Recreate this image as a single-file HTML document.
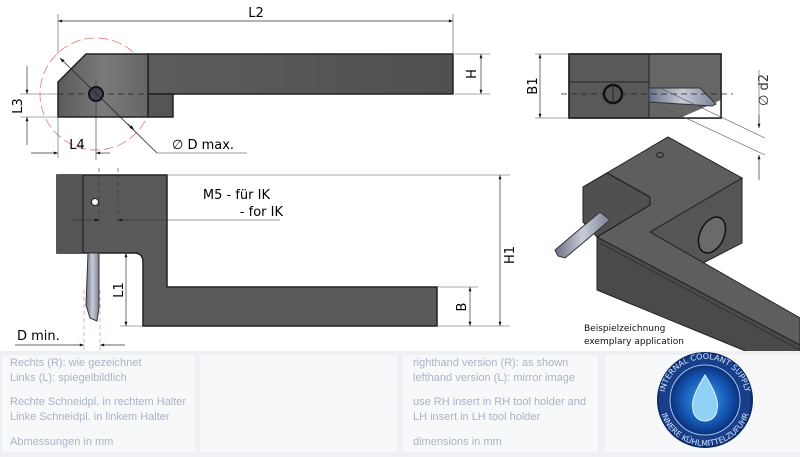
<!DOCTYPE html>
<html><head><meta charset="utf-8"><style>
html,body{margin:0;padding:0;background:#fff;width:800px;height:457px;overflow:hidden}
svg text{font-family:"DejaVu Sans","Liberation Sans",sans-serif}
.t{font-family:"Liberation Sans",sans-serif;font-size:11px;fill:#aab3c6}
</style></head><body>
<svg width="800" height="457" viewBox="0 0 800 457" xmlns="http://www.w3.org/2000/svg">
<defs>
<linearGradient id="hg" x1="0" x2="1"><stop offset="0" stop-color="#5a5a5a"/><stop offset="0.5" stop-color="#7a7a7a"/><stop offset="1" stop-color="#666"/></linearGradient>
<linearGradient id="sg" x1="0" x2="1"><stop offset="0" stop-color="#5c5c5c"/><stop offset="1" stop-color="#505050"/></linearGradient>
<linearGradient id="tool" x1="0" x2="1"><stop offset="0" stop-color="#6a7085"/><stop offset="0.5" stop-color="#c8ccd8"/><stop offset="1" stop-color="#7a8094"/></linearGradient>
<radialGradient id="logo" cx="0.5" cy="0.5" r="0.5"><stop offset="0" stop-color="#3fa0e8"/><stop offset="0.7" stop-color="#1354b0"/><stop offset="1" stop-color="#0c2f78"/></radialGradient>
<marker id="a" viewBox="0 0 10 10" refX="10" refY="5" markerWidth="8" markerHeight="6" orient="auto-start-reverse"><path d="M0,1.5 L10,5 L0,8.5z" fill="#111"/></marker>
</defs>

<!-- TOP VIEW -->
<circle cx="96" cy="94" r="56" fill="none" stroke="#e07a7a" stroke-width="0.8" stroke-dasharray="10,4"/>
<rect x="148" y="54" width="305" height="40" fill="url(#sg)" stroke="#222" stroke-width="1.5"/>
<rect x="148" y="94" width="25" height="23" fill="#555" stroke="#222" stroke-width="1.5"/>
<path d="M58,82 L86,54 L148,54 L148,117 L58,117 Z" fill="url(#hg)" stroke="#222" stroke-width="1.5"/>
<line x1="58" y1="94" x2="150" y2="94" stroke="#222" stroke-width="0.8" stroke-dasharray="6,4"/>
<circle cx="96" cy="94" r="7" fill="#445" stroke="#111" stroke-width="2"/>
<line x1="96" y1="80" x2="96" y2="160" stroke="#333" stroke-width="0.6"/>
<line x1="58" y1="14" x2="58" y2="54" stroke="#555" stroke-width="0.6"/>
<line x1="453" y1="14" x2="453" y2="54" stroke="#555" stroke-width="0.6"/>
<line x1="58" y1="21" x2="453" y2="21" stroke="#333" stroke-width="0.7" marker-start="url(#a)" marker-end="url(#a)"/>
<text x="256" y="17" font-size="13" text-anchor="middle">L2</text>
<line x1="455" y1="54" x2="490" y2="54" stroke="#555" stroke-width="0.6"/>
<line x1="455" y1="94" x2="490" y2="94" stroke="#555" stroke-width="0.6"/>
<line x1="481" y1="54" x2="481" y2="94" stroke="#333" stroke-width="0.7" marker-start="url(#a)" marker-end="url(#a)"/>
<text transform="translate(476,74) rotate(-90)" font-size="13" text-anchor="middle">H</text>
<line x1="20" y1="94" x2="58" y2="94" stroke="#555" stroke-width="0.6"/>
<line x1="20" y1="117" x2="58" y2="117" stroke="#555" stroke-width="0.6"/>
<line x1="27" y1="66" x2="27" y2="94" stroke="#333" stroke-width="0.7" marker-end="url(#a)"/>
<line x1="27" y1="145" x2="27" y2="117" stroke="#333" stroke-width="0.7" marker-end="url(#a)"/>
<text transform="translate(22,106) rotate(-90)" font-size="13" text-anchor="middle">L3</text>
<line x1="58" y1="117" x2="58" y2="158" stroke="#555" stroke-width="0.6"/>
<line x1="31" y1="153" x2="58" y2="153" stroke="#333" stroke-width="0.7" marker-end="url(#a)"/>
<line x1="110" y1="153" x2="96" y2="153" stroke="#333" stroke-width="0.7" marker-end="url(#a)"/>
<text x="77" y="149" font-size="13" text-anchor="middle">L4</text>
<line x1="60" y1="58" x2="157" y2="153" stroke="#222" stroke-width="0.8" marker-start="url(#a)"/>
<line x1="128" y1="124" x2="134" y2="130" stroke="#222" stroke-width="0.8" marker-end="url(#a)"/>
<line x1="157" y1="153" x2="247" y2="153" stroke="#333" stroke-width="0.6"/>
<text x="172" y="149" font-size="13">∅ D max.</text>

<!-- FRONT VIEW -->
<path d="M57,175 L167,175 L167,287 L437,287 L437,326 L143,326 L143,262 Q143,253 134,253 L57,253 Z" fill="#5a5a5a" stroke="#222" stroke-width="1.5"/>
<rect x="57" y="175" width="26" height="78" fill="#555"/>
<line x1="83" y1="175" x2="83" y2="253" stroke="#222" stroke-width="1.2"/>
<line x1="99" y1="168" x2="99" y2="222" stroke="#333" stroke-width="0.6" stroke-dasharray="4,3"/>
<line x1="118" y1="168" x2="118" y2="222" stroke="#333" stroke-width="0.6" stroke-dasharray="4,3"/>
<circle cx="95" cy="202" r="3.5" fill="#fff" stroke="#222"/>
<line x1="72" y1="220" x2="99" y2="220" stroke="#333" stroke-width="0.7" marker-end="url(#a)"/>
<line x1="130" y1="220" x2="118" y2="220" stroke="#333" stroke-width="0.7" marker-end="url(#a)"/>
<line x1="118" y1="220" x2="280" y2="220" stroke="#333" stroke-width="0.6"/>
<text x="270" y="199" font-size="13" text-anchor="end">M5 - für IK</text>
<text x="283" y="216" font-size="13" text-anchor="end">- for IK</text>
<path d="M88,253 L99,253 L99,308 L97,321 L90,318 L86,305 Z" fill="url(#tool)" stroke="#333" stroke-width="1"/>
<line x1="84" y1="290" x2="84" y2="350" stroke="#e07a7a" stroke-width="0.6" stroke-dasharray="4,3"/>
<line x1="100" y1="290" x2="100" y2="350" stroke="#e07a7a" stroke-width="0.6" stroke-dasharray="4,3"/>
<line x1="126" y1="253" x2="126" y2="326" stroke="#333" stroke-width="0.7" marker-start="url(#a)" marker-end="url(#a)"/>
<line x1="120" y1="326" x2="143" y2="326" stroke="#555" stroke-width="0.6"/>
<text transform="translate(123,290) rotate(-90)" font-size="13" text-anchor="middle">L1</text>
<line x1="15" y1="345" x2="84" y2="345" stroke="#333" stroke-width="0.7" marker-end="url(#a)"/>
<line x1="125" y1="345" x2="100" y2="345" stroke="#333" stroke-width="0.7" marker-end="url(#a)"/>
<text x="17" y="340" font-size="13">D min.</text>
<line x1="167" y1="175" x2="510" y2="175" stroke="#555" stroke-width="0.6"/>
<line x1="437" y1="326" x2="510" y2="326" stroke="#555" stroke-width="0.6"/>
<line x1="437" y1="287" x2="478" y2="287" stroke="#555" stroke-width="0.6"/>
<line x1="500" y1="175" x2="500" y2="326" stroke="#333" stroke-width="0.7" marker-start="url(#a)" marker-end="url(#a)"/>
<text transform="translate(514,255) rotate(-90)" font-size="13" text-anchor="middle">H1</text>
<line x1="470" y1="287" x2="470" y2="326" stroke="#333" stroke-width="0.7" marker-start="url(#a)" marker-end="url(#a)"/>
<text transform="translate(466,307) rotate(-90)" font-size="13" text-anchor="middle">B</text>

<!-- SIDE VIEW -->
<rect x="569" y="54" width="152" height="64" fill="#595959" stroke="#222" stroke-width="1.5"/>
<rect x="649" y="54" width="72" height="64" fill="#666"/>
<line x1="569" y1="82" x2="649" y2="82" stroke="#222" stroke-width="1"/>
<line x1="649" y1="54" x2="649" y2="118" stroke="#222" stroke-width="1"/>
<path d="M680,118 L721,100 L721,118 Z" fill="#fff"/>
<path d="M649,88 L700,88 L716,104 L712,106 L649,102 Z" fill="url(#tool)" stroke="#333"/>
<rect x="569" y="54" width="152" height="64" fill="none" stroke="#222" stroke-width="1.5"/>
<line x1="561" y1="94" x2="733" y2="94" stroke="#222" stroke-width="0.7" stroke-dasharray="6,4"/>
<circle cx="613" cy="94" r="9" fill="#555" stroke="#111" stroke-width="2.5"/>
<line x1="613" y1="85" x2="613" y2="103" stroke="#222"/>
<line x1="540" y1="54" x2="540" y2="118" stroke="#333" stroke-width="0.7" marker-start="url(#a)" marker-end="url(#a)"/>
<line x1="535" y1="54" x2="569" y2="54" stroke="#555" stroke-width="0.6"/>
<line x1="535" y1="118" x2="569" y2="118" stroke="#555" stroke-width="0.6"/>
<text transform="translate(537,86) rotate(-90)" font-size="13" text-anchor="middle">B1</text>
<line x1="660" y1="88" x2="765" y2="138" stroke="#555" stroke-width="0.6"/>
<line x1="660" y1="106" x2="765" y2="155" stroke="#555" stroke-width="0.6"/>
<line x1="759" y1="70" x2="759" y2="128" stroke="#555" stroke-width="0.6"/>
<line x1="759" y1="115" x2="759" y2="128" stroke="#333" stroke-width="0.7" marker-end="url(#a)"/>
<line x1="759" y1="180" x2="759" y2="155" stroke="#333" stroke-width="0.7" marker-end="url(#a)"/>
<text transform="translate(768,90) rotate(-90)" font-size="13" text-anchor="middle" fill="#333">∅ d2</text>

<!-- 3D -->
<path d="M597,237 L800,345 L800,357 L760,357 L597,290 Z" fill="#4a4a4a" stroke="#222"/>
<path d="M650,232 L742,178 L742,243 L703,263 Z" fill="#555" stroke="#222"/>
<path d="M583,187 L607,173 L650,197 L650,205 L597,237 L583,222 Z" fill="#505050" stroke="#222"/>
<path d="M583,187 L668,137 L742,178 L650,232 L800,318 L800,345 L597,237 L650,205 L650,197 L607,173 Z" fill="#5e5e5e" stroke="#222"/>
<path d="M607,173 L650,197 L650,205 L597,237" fill="none" stroke="#222" stroke-width="1.2"/>
<path d="M600,243 L800,350" stroke="#333"/>
<ellipse cx="712" cy="235" rx="12" ry="19" transform="rotate(25 712 235)" fill="#6a6a6a" stroke="#111" stroke-width="1.5"/>
<ellipse cx="660" cy="155" rx="3.5" ry="2.5" fill="none" stroke="#222"/>
<path d="M555,250 L600,212 L610,220 L565,258 L558,256 Z" fill="url(#tool)" stroke="#333"/>
<text x="584" y="331" font-size="9" fill="#111" font-family="Liberation Sans">Beispielzeichnung</text>
<text x="584" y="344" font-size="9" fill="#111" font-family="Liberation Sans">exemplary application</text>

<!-- TABLE -->
<rect x="0" y="351" width="800" height="106" fill="#eef0f3"/>
<rect x="2" y="355" width="193" height="97" fill="#f7f8fa"/>
<rect x="200" y="355" width="197" height="97" fill="#f7f8fa"/>
<rect x="403" y="355" width="195" height="97" fill="#f7f8fa"/>
<rect x="605" y="355" width="195" height="97" fill="#f7f8fa"/>
<text class="t" x="10" y="366">Rechts (R): wie gezeichnet</text>
<text class="t" x="10" y="381">Links (L): spiegelbildlich</text>
<text class="t" x="10" y="405">Rechte Schneidpl. in rechtem Halter</text>
<text class="t" x="10" y="420">Linke Schneidpl. in linkem Halter</text>
<text class="t" x="10" y="445">Abmessungen in mm</text>
<text class="t" x="413" y="366">righthand version (R): as shown</text>
<text class="t" x="413" y="381">lefthand version (L): mirror image</text>
<text class="t" x="413" y="405">use RH insert in RH tool holder and</text>
<text class="t" x="413" y="420">LH insert in LH tool holder</text>
<text class="t" x="413" y="445">dimensions in mm</text>
<circle cx="705" cy="400" r="47" fill="#1a3f8a" stroke="#0a2a66" stroke-width="2"/>
<circle cx="705" cy="400" r="35" fill="url(#logo)" stroke="#9fc3ee" stroke-width="1"/>
<path d="M705,375 Q690,399 693,409 A12,12 0 0 0 717,409 Q720,399 705,375 Z" fill="#8fd0f5" stroke="#e0f4ff"/>
<path id="arcT" d="M664,400 A41,41 0 0 1 746,400" fill="none"/>
<text font-size="8" fill="#cfe0ff"><textPath href="#arcT" startOffset="50%" text-anchor="middle">INTERNAL COOLANT SUPPLY</textPath></text>
<path id="arcB" d="M659,400 A46,46 0 0 0 751,400" fill="none"/>
<text font-size="8" fill="#cfe0ff"><textPath href="#arcB" startOffset="50%" text-anchor="middle">INNERE KÜHLMITTELZUFUHR</textPath></text>
</svg>
</body></html>
